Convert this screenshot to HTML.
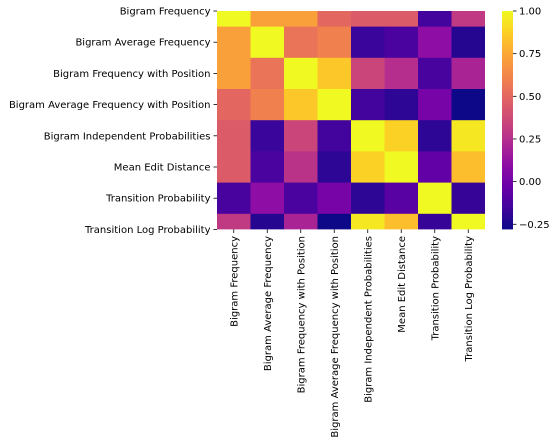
<!DOCTYPE html>
<html><head><meta charset="utf-8"><style>
html,body{margin:0;padding:0;background:#fff;}
svg{display:block;font-family:"DejaVu Sans","Liberation Sans",sans-serif;}
</style></head><body>
<svg id="chart" width="557" height="446" viewBox="0 0 557 446" xmlns="http://www.w3.org/2000/svg">
<defs><clipPath id="clip"><rect x="217" y="11" width="268" height="218.4"/></clipPath>
<linearGradient id="cbar" x1="0" y1="1" x2="0" y2="0"></linearGradient></defs>
<g id="cells" clip-path="url(#clip)"></g>
<g id="ylabels"></g><g id="xlabels"></g>
<rect id="cbrect" x="502" y="11" width="11" height="218.4" fill="url(#cbar)"/>
<g id="cbticks"></g>
</svg>
<script>
const labels = ["Bigram Frequency","Bigram Average Frequency","Bigram Frequency with Position","Bigram Average Frequency with Position","Bigram Independent Probabilities","Mean Edit Distance","Transition Probability","Transition Log Probability"];
const row0 = [1, 0.72, 0.72, 0.5, 0.45, 0.45, -0.15, 0.3];
const row1 = [0.72, 1, 0.55, 0.6, -0.17, -0.12, 0.1, -0.22];
const row2 = [0.72, 0.55, 1, 0.85, 0.35, 0.25, -0.13, 0.2];
const row3 = [0.5, 0.6, 0.85, 1, -0.15, -0.2, 0.02, -0.28];
const row4 = [0.45, -0.17, 0.35, -0.15, 1, 0.88, -0.2, 0.95];
const row5 = [0.45, -0.12, 0.27, -0.2, 0.88, 1, -0.05, 0.82];
const row6 = [-0.13, 0.1, -0.12, 0.02, -0.2, -0.08, 1, -0.18];
const row7 = [0.3, -0.22, 0.2, -0.28, 0.95, 0.82, -0.18, 1];
const cbTicks = [1.0, 0.75, 0.5, 0.25, 0.0, -0.25];
const cbTickLabels = ["1.00","0.75","0.50","0.25","0.00","\u22120.25"];
const rows = [row0,row1,row2,row3,row4,row5,row6,row7];
const vmin = -0.28, vmax = 1.0;
const NS = "http://www.w3.org/2000/svg";
const plasma = ["#0d0887","#41049d","#6a00a8","#8f0da4","#b12a90","#cc4778","#e16462","#f2844b","#fca636","#fcce25","#f0f921"];
function hex(h){return [1,3,5].map(i=>parseInt(h.substr(i,2),16));}
function cmap(v){let t=Math.max(0,Math.min(1,(v-vmin)/(vmax-vmin)))*10;let i=Math.min(9,Math.floor(t));let f=t-i;let a=hex(plasma[i]),b=hex(plasma[i+1]);return "rgb("+a.map((c,k)=>Math.round(c+(b[k]-c)*f)).join(",")+")";}
const x0=217, cw=33.5, y0=11, rh=31.2;
const xs = d => x0 + d*cw;
const ys = d => y0 + (d-0.5)*rh;
const cbY = v => 229.4 - (v-vmin)/(vmax-vmin)*218.4;
function el(tag, attrs, parent){const e=document.createElementNS(NS,tag);for(const k in attrs)e.setAttribute(k,attrs[k]);parent.appendChild(e);return e;}
const cells=document.getElementById("cells");
rows.forEach((r,i)=>r.forEach((v,j)=>{
  const c=el("rect",{x:xs(j),y:ys(i),width:cw+0.4,height:rh+0.4,fill:cmap(v)},cells);
  
  
}));
const yl=document.getElementById("ylabels"), xl=document.getElementById("xlabels");
labels.forEach((l,i)=>{
  const yc=ys(i+0.5);
  el("line",{x1:213.5,x2:217,y1:yc,y2:yc,stroke:"#000","stroke-width":0.8},yl);
  const t=el("text",{x:210.5,y:yc+3.5,"text-anchor":"end","font-size":"10px",fill:"#000"},yl);
  t.textContent=l;
  
  
  const xc=xs(i+0.5);
  el("line",{x1:xc,x2:xc,y1:229.4,y2:233,stroke:"#000","stroke-width":0.8},xl);
  const tx=el("text",{transform:"translate("+(xc+3.5)+",236) rotate(-90)","text-anchor":"end","font-size":"10px",fill:"#000"},xl);
  tx.textContent=l;
  
  
});
const grad=document.getElementById("cbar");
for(let k=0;k<=20;k++){const v=vmin+(vmax-vmin)*k/20;el("stop",{offset:(k*5)+"%","stop-color":cmap(v)},grad);}
const cbt=document.getElementById("cbticks");
cbTicks.forEach((v,i)=>{
  const y=cbY(v);
  el("line",{x1:513,x2:516.5,y1:y,y2:y,stroke:"#000","stroke-width":0.8},cbt);
  const t=el("text",{x:519,y:y+3.5,"font-size":"10px",fill:"#000"},cbt);
  t.textContent=cbTickLabels[i];
  
  
});
</script>
</body></html>
